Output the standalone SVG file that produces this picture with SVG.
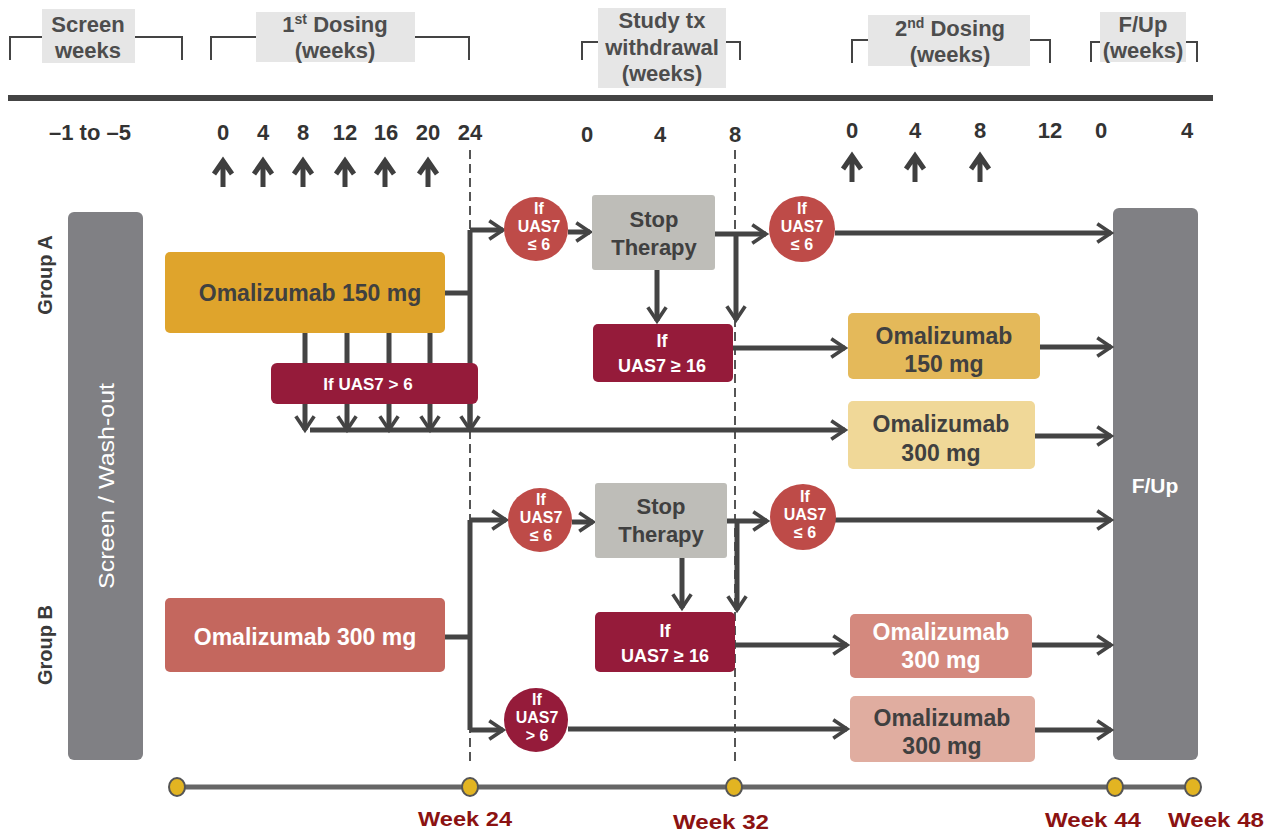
<svg xmlns="http://www.w3.org/2000/svg" width="1267" height="831" viewBox="0 0 1267 831">
<style>
text{font-family:"Liberation Sans",Arial,sans-serif;font-weight:bold;text-anchor:middle}
.hdr{font-size:22px;fill:#4d4d4d}
.hbox{fill:#e6e6e6}
.brk{fill:none;stroke:#444;stroke-width:2}
.num{font-size:22px;fill:#333}
.up{fill:none;stroke:#3f3f3f;stroke-width:5}
.dash{stroke:#555;stroke-width:2;stroke-dasharray:9,5}
.ln{fill:none;stroke:#444;stroke-width:5}
.arr{fill:none;stroke:#444;stroke-width:5;marker-end:url(#chev)}
.wt{fill:#fff}
.dk{fill:#404040}
.ct{font-size:16px;fill:#fff}
.bt{font-size:23px}
.st{font-size:22px}
.wk{font-size:20px;fill:#8b1212}
</style>
<defs>
<marker id="chev" viewBox="0 0 12 12" refX="10" refY="6" markerWidth="4.4" markerHeight="4.4" orient="auto" markerUnits="strokeWidth">
<path d="M2.5,1 L10,6 L2.5,11" fill="none" stroke="#444" stroke-width="2"/>
</marker>
</defs>
<rect width="1267" height="831" fill="#fff"/>

<g id="header">
<rect class="hbox" x="42" y="9" width="93" height="54"/>
<rect class="hbox" x="256" y="12" width="159" height="50"/>
<rect class="hbox" x="598" y="8" width="128" height="80"/>
<rect class="hbox" x="868" y="15" width="162" height="51"/>
<rect class="hbox" x="1100" y="12" width="86" height="50"/>
<path class="brk" d="M10,60 V37 H42 M135,37 H182 V60"/>
<path class="brk" d="M211,60 V37 H256 M415,37 H469 V60"/>
<path class="brk" d="M582,60 V42 H598 M726,42 H740 V60"/>
<path class="brk" d="M852,63 V40 H868 M1030,40 H1050 V63"/>
<path class="brk" d="M1091,62 V42 H1100 M1186,42 H1197 V62"/>
<text class="hdr" x="88" y="32">Screen</text>
<text class="hdr" x="88" y="58">weeks</text>
<text class="hdr" x="335" y="32">1<tspan font-size="14" dy="-8">st</tspan><tspan dy="8"> Dosing</tspan></text>
<text class="hdr" x="335" y="58">(weeks)</text>
<text class="hdr" x="662" y="28">Study tx</text>
<text class="hdr" x="662" y="55">withdrawal</text>
<text class="hdr" x="662" y="81">(weeks)</text>
<text class="hdr" x="950" y="36">2<tspan font-size="14" dy="-8">nd</tspan><tspan dy="8"> Dosing</tspan></text>
<text class="hdr" x="950" y="62">(weeks)</text>
<text class="hdr" x="1143" y="32">F/Up</text>
<text class="hdr" x="1143" y="58">(weeks)</text>
<line x1="8" y1="98" x2="1213" y2="98" stroke="#444" stroke-width="6"/>
</g>

<g id="week-numbers">
<text class="num" x="90" y="140">–1 to –5</text>
<text class="num" x="223" y="140">0</text>
<text class="num" x="263" y="140">4</text>
<text class="num" x="303" y="140">8</text>
<text class="num" x="345" y="140">12</text>
<text class="num" x="386" y="140">16</text>
<text class="num" x="428" y="140">20</text>
<text class="num" x="470" y="140">24</text>
<text class="num" x="587" y="142">0</text>
<text class="num" x="660" y="142">4</text>
<text class="num" x="735" y="142">8</text>
<text class="num" x="852" y="138">0</text>
<text class="num" x="915" y="138">4</text>
<text class="num" x="980" y="138">8</text>
<text class="num" x="1050" y="138">12</text>
<text class="num" x="1101" y="138">0</text>
<text class="num" x="1187" y="138">4</text>
</g>

<g id="dose-arrows">
<path class="up" d="M223,187 V163 M214,174 L223,161 L232,174"/>
<path class="up" d="M263,187 V163 M254,174 L263,161 L272,174"/>
<path class="up" d="M303,187 V163 M294,174 L303,161 L312,174"/>
<path class="up" d="M345,187 V163 M336,174 L345,161 L354,174"/>
<path class="up" d="M385,187 V163 M376,174 L385,161 L394,174"/>
<path class="up" d="M428,187 V163 M419,174 L428,161 L437,174"/>
<path class="up" d="M852,182 V158 M843,169 L852,156 L861,169"/>
<path class="up" d="M915,182 V158 M906,169 L915,156 L924,169"/>
<path class="up" d="M980,182 V158 M971,169 L980,156 L989,169"/>
</g>

<g id="dashed-lines">
<line class="dash" x1="470" y1="150" x2="470" y2="765"/>
<line class="dash" x1="735" y1="150" x2="735" y2="765"/>
</g>

<g id="screen-washout">
<rect x="68" y="212" width="75" height="548" rx="6" fill="#808084"/>
<text class="wt" font-size="22" font-weight="normal" style="font-weight:normal" transform="translate(114,486) rotate(-90)" textLength="206" lengthAdjust="spacingAndGlyphs">Screen / Wash-out</text>
</g>
<g id="group-a-label"><text font-size="20" fill="#3a3a3a" transform="translate(52,275) rotate(-90)">Group A</text></g>
<g id="group-b-label"><text font-size="20" fill="#3a3a3a" transform="translate(52,645) rotate(-90)">Group B</text></g>

<g id="fup">
<rect x="1113" y="208" width="85" height="552" rx="6" fill="#808084"/>
<text class="wt" font-size="21" x="1155" y="493">F/Up</text>
</g>

<g id="connectors">
<path class="ln" d="M445,293 H470"/>
<path class="ln" d="M470,230 V425"/>
<path class="arr" d="M470,230 H503"/>
<path class="ln" d="M305,333 V365 M347,333 V365 M389,333 V365 M430,333 V365"/>
<path class="arr" d="M305,404 V430"/>
<path class="arr" d="M347,404 V430"/>
<path class="arr" d="M389,404 V430"/>
<path class="arr" d="M430,404 V430"/>
<path class="arr" d="M470,404 V430"/>
<path class="arr" d="M310,430 H845"/>
<path class="arr" d="M568,232 H590"/>
<path class="arr" d="M715,234 H766"/>
<path class="arr" d="M736,234 V320"/>
<path class="arr" d="M657,270 V321"/>
<path class="arr" d="M835,233 H1111"/>
<path class="arr" d="M733,348 H845"/>
<path class="arr" d="M1040,347 H1111"/>
<path class="arr" d="M1035,436 H1111"/>
<path class="ln" d="M445,637 H470"/>
<path class="ln" d="M470,520 V730"/>
<path class="arr" d="M470,520 H506"/>
<path class="arr" d="M470,730 H503"/>
<path class="arr" d="M572,522 H593"/>
<path class="arr" d="M727,521 H767"/>
<path class="arr" d="M737,521 V610"/>
<path class="arr" d="M682,558 V608"/>
<path class="arr" d="M835,520 H1111"/>
<path class="arr" d="M735,645 H847"/>
<path class="arr" d="M1032,645 H1111"/>
<path class="arr" d="M568,729 H847"/>
<path class="arr" d="M1035,730 H1111"/>
</g>

<g id="a-omal150"><rect x="165" y="252" width="280" height="81" rx="5" fill="#dfa42c"/><text class="dk bt" x="310" y="301">Omalizumab 150 mg</text></g>
<g id="a-if-gt6"><rect x="271" y="363" width="207" height="41" rx="6" fill="#951b3a"/><text class="wt" font-size="17" x="368" y="390">If UAS7 &gt; 6</text></g>
<g id="a-circ1"><circle cx="536" cy="229" r="32" fill="#be4b48"/><text class="ct" x="539" y="214">If</text><text class="ct" x="539" y="232">UAS7</text><text class="ct" x="539" y="250">≤ 6</text></g>
<g id="a-stop"><rect x="592" y="195" width="123" height="75" rx="3" fill="#bebdb8"/><text class="dk st" x="654" y="227">Stop</text><text class="dk st" x="654" y="255">Therapy</text></g>
<g id="a-circ2"><circle cx="802" cy="229" r="33" fill="#be4b48"/><text class="ct" x="802" y="214">If</text><text class="ct" x="802" y="232">UAS7</text><text class="ct" x="802" y="250">≤ 6</text></g>
<g id="a-if-ge16"><rect x="593" y="324" width="140" height="58" rx="5" fill="#951b3a"/><text class="wt" font-size="18" x="662" y="347">If</text><text class="wt" font-size="18" x="662" y="372">UAS7 ≥ 16</text></g>
<g id="a-omal150b"><rect x="848" y="313" width="192" height="66" rx="5" fill="#e4b95a"/><text class="dk bt" x="944" y="344">Omalizumab</text><text class="dk bt" x="944" y="372">150 mg</text></g>
<g id="a-omal300"><rect x="848" y="401" width="187" height="68" rx="5" fill="#f0d898"/><text class="dk bt" x="941" y="432">Omalizumab</text><text class="dk bt" x="941" y="461">300 mg</text></g>

<g id="b-omal300"><rect x="165" y="598" width="280" height="74" rx="5" fill="#c4675e"/><text class="wt bt" x="305" y="645">Omalizumab 300 mg</text></g>
<g id="b-circ1"><circle cx="540" cy="520" r="32" fill="#be4b48"/><text class="ct" x="541" y="505">If</text><text class="ct" x="541" y="523">UAS7</text><text class="ct" x="541" y="541">≤ 6</text></g>
<g id="b-stop"><rect x="595" y="483" width="132" height="75" rx="3" fill="#bebdb8"/><text class="dk st" x="661" y="514">Stop</text><text class="dk st" x="661" y="542">Therapy</text></g>
<g id="b-circ2"><circle cx="803" cy="517" r="33" fill="#be4b48"/><text class="ct" x="805" y="502">If</text><text class="ct" x="805" y="520">UAS7</text><text class="ct" x="805" y="538">≤ 6</text></g>
<g id="b-if-ge16"><rect x="595" y="612" width="140" height="60" rx="5" fill="#951b3a"/><text class="wt" font-size="18" x="665" y="637">If</text><text class="wt" font-size="18" x="665" y="662">UAS7 ≥ 16</text></g>
<g id="b-omal300b"><rect x="850" y="614" width="182" height="64" rx="5" fill="#d4897e"/><text class="wt bt" x="941" y="640">Omalizumab</text><text class="wt bt" x="941" y="668">300 mg</text></g>
<g id="b-circ3"><circle cx="536" cy="720" r="32" fill="#951b3a"/><text class="ct" x="537" y="705">If</text><text class="ct" x="537" y="723">UAS7</text><text class="ct" x="537" y="741">&gt; 6</text></g>
<g id="b-omal300c"><rect x="850" y="696" width="185" height="66" rx="5" fill="#e0ada0"/><text class="dk bt" x="942" y="726">Omalizumab</text><text class="dk bt" x="942" y="754">300 mg</text></g>

<g id="timeline">
<line x1="177" y1="787" x2="1193" y2="787" stroke="#666" stroke-width="5"/>
<ellipse cx="177" cy="787" rx="8" ry="9" fill="#e2b422" stroke="#555" stroke-width="2"/>
<ellipse cx="470" cy="787" rx="8" ry="9" fill="#e2b422" stroke="#555" stroke-width="2"/>
<ellipse cx="734" cy="787" rx="8" ry="9" fill="#e2b422" stroke="#555" stroke-width="2"/>
<ellipse cx="1115" cy="787" rx="8" ry="9" fill="#e2b422" stroke="#555" stroke-width="2"/>
<ellipse cx="1193" cy="787" rx="8" ry="9" fill="#e2b422" stroke="#555" stroke-width="2"/>
<text class="wk" x="465" y="826" textLength="94" lengthAdjust="spacingAndGlyphs">Week 24</text>
<text class="wk" x="721" y="829" textLength="96" lengthAdjust="spacingAndGlyphs">Week 32</text>
<text class="wk" x="1093" y="827" textLength="96" lengthAdjust="spacingAndGlyphs">Week 44</text>
<text class="wk" x="1216" y="827" textLength="96" lengthAdjust="spacingAndGlyphs">Week 48</text>
</g>
</svg>
